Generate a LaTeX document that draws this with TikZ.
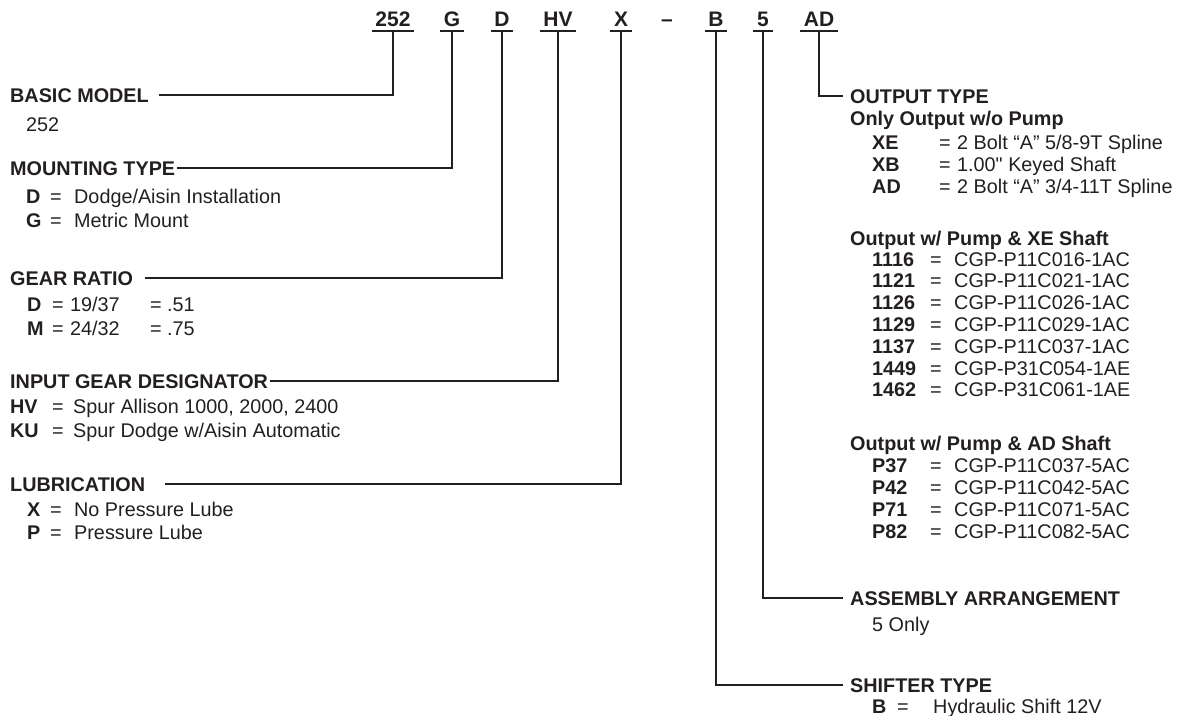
\documentclass[tikz,border=0pt]{standalone}
\usepackage{fontspec}
\setmainfont{Liberation Sans}[Ligatures=TeXOff]
\usepackage{xcolor}
\usepackage{tikz}
\usetikzlibrary{positioning}
\definecolor{inkgray}{HTML}{231F20}
\newcommand{\kcol}[2]{\makebox[#1][l]{\textbf{#2}}}
\newcommand{\ecol}[1]{\makebox[#1][l]{=}}

\begin{document}
\begin{tikzpicture}[
    x=1pt, y=-1pt,
    every node/.style={inner sep=0pt, anchor=west, text height=14pt,
                       text depth=0pt, text=inkgray,
                       font=\fontsize{19.8}{22}\selectfont},
    code/.style={anchor=center, inner xsep=3.5pt, inner ysep=5pt,
                 text height=15pt, font=\fontsize{21}{24}\selectfont\bfseries},
    head/.style={font=\fontsize{19.8}{22}\selectfont\bfseries},
    link/.style={draw=inkgray, line width=2pt}
  ]
    \useasboundingbox (0,0) rectangle (1186,715);

    % model code
    \node[code] (c252) at (393,18.5) {252};
    \node[code] (cG)   at (452,18.5) {G};
    \node[code] (cD)   at (502,18.5) {D};
    \node[code] (cHV)  at (558,18.5) {HV};
    \node[code] (cX)   at (621,18.5) {X};
    \node[code] (cdash) at (667,18.5) {–};
    \node[code] (cB)   at (716,18.5) {B};
    \node[code] (c5)   at (763,18.5) {5};
    \node[code] (cAD)  at (819,18.5) {AD};
    \foreach \c in {c252,cG,cD,cHV,cX,cB,c5,cAD}
      \draw[link] (\c.south west) -- (\c.south east);

    % left column
    \node[head] (basic) at (10,95) {BASIC MODEL};
    \node (basic1) at (26,124) {252};

    \node[head] (mount) at (10,168) {MOUNTING TYPE};
    \node (mount1) at (26,196) {\kcol{24pt}{D}\ecol{24pt}Dodge/Aisin Installation};
    \node (mount2) at (26,220) {\kcol{24pt}{G}\ecol{24pt}Metric Mount};

    \node[head] (gear) at (10,278) {GEAR RATIO};
    \node (gear1) at (27,304) {\kcol{25pt}{D}\ecol{18pt}\makebox[80pt][l]{19/37}\ecol{17pt}.51};
    \node (gear2) at (27,328) {\kcol{25pt}{M}\ecol{18pt}\makebox[80pt][l]{24/32}\ecol{17pt}.75};

    \node[head] (input) at (10,381) {INPUT GEAR DESIGNATOR};
    \node (input1) at (10,406) {\kcol{42pt}{HV}\ecol{21pt}Spur Allison 1000, 2000, 2400};
    \node (input2) at (10,430) {\kcol{42pt}{KU}\ecol{21pt}Spur Dodge w/Aisin Automatic};

    \node[head] (lube) at (10,484) {LUBRICATION};
    \node (lube1) at (27,509) {\kcol{23pt}{X}\ecol{24pt}No Pressure Lube};
    \node (lube2) at (27,532) {\kcol{23pt}{P}\ecol{24pt}Pressure Lube};

    % right column
    \node[head] (output) at (850,96) {OUTPUT TYPE};
    \node[head] (nopump) at (850,118) {Only Output w/o Pump};
    \node (np1) at (872,142) {\kcol{67pt}{XE}\ecol{18pt}2 Bolt “A” 5/8-9T Spline};
    \node (np2) at (872,164) {\kcol{67pt}{XB}\ecol{18pt}1.00" Keyed Shaft};
    \node (np3) at (872,186) {\kcol{67pt}{AD}\ecol{18pt}2 Bolt “A” 3/4-11T Spline};

    \node[head] (xepump) at (850,238) {Output w/ Pump \& XE Shaft};
    \foreach \k/\v [count=\i] in {1116/CGP-P11C016-1AC, 1121/CGP-P11C021-1AC,
        1126/CGP-P11C026-1AC, 1129/CGP-P11C029-1AC, 1137/CGP-P11C037-1AC,
        1449/CGP-P31C054-1AE, 1462/CGP-P31C061-1AE}
      \node (xe\i) at (872,{259+21.8*(\i-1)}) {\kcol{58pt}{\k}\ecol{24pt}\v};

    \node[head] (adpump) at (850,443) {Output w/ Pump \& AD Shaft};
    \foreach \k/\v [count=\i] in {P37/CGP-P11C037-5AC, P42/CGP-P11C042-5AC,
        P71/CGP-P11C071-5AC, P82/CGP-P11C082-5AC}
      \node (ad\i) at (872,{465+22*(\i-1)}) {\kcol{58pt}{\k}\ecol{24pt}\v};

    \node[head] (assy) at (850,598) {ASSEMBLY ARRANGEMENT};
    \node (assy1) at (872,624) {5 Only};

    \node[head] (shift) at (850,685) {SHIFTER TYPE};
    \node (shift1) at (872,706) {\kcol{25pt}{B}\ecol{36pt}Hydraulic Shift 12V};

    % connectors
    \draw[link] ([xshift=10pt]basic.east) -| (c252.south);
    \draw[link] ([xshift=2pt]mount.east) -| (cG.south);
    \draw[link] ([xshift=12pt]gear.east) -| (cD.south);
    \draw[link] ([xshift=2pt]input.east) -| (cHV.south);
    \draw[link] ([xshift=20pt]lube.east) -| (cX.south);
    \draw[link] (cAD.south) |- ([xshift=-7pt]output.west);
    \draw[link] (c5.south) |- ([xshift=-7pt]assy.west);
    \draw[link] (cB.south) |- ([xshift=-7pt]shift.west);
  \end{tikzpicture}
\end{document}
